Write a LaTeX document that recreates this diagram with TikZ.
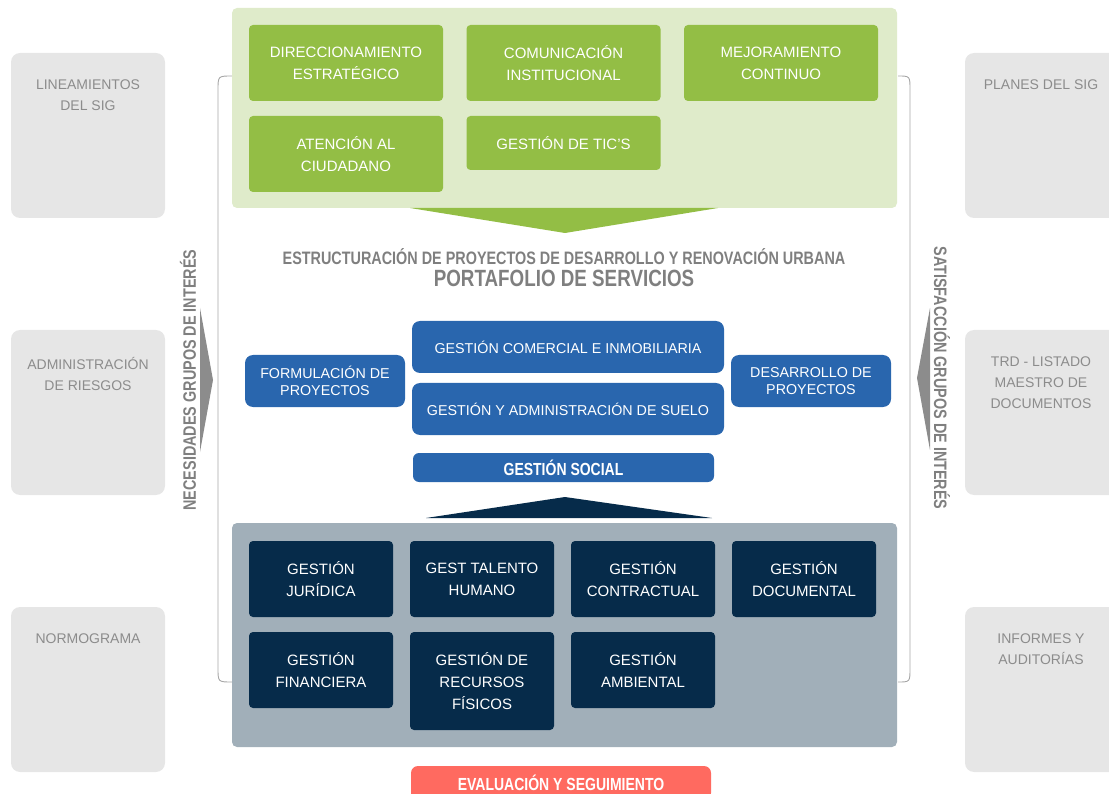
\documentclass[tikz,border=0pt]{standalone}
\usepackage{fontspec}
\setmainfont{Liberation Sans}
\newfontfamily\condfont[FakeStretch=0.8]{Liberation Sans}
\definecolor{sidegray}{HTML}{E6E6E6}
\definecolor{sidetext}{HTML}{8C8C8C}
\definecolor{greenpanel}{HTML}{DFEBCA}
\definecolor{greenfill}{HTML}{93BE45}
\definecolor{bluefill}{HTML}{2966AE}
\definecolor{navyfill}{HTML}{062B4A}
\definecolor{graypanel}{HTML}{A1AFB9}
\definecolor{redfill}{HTML}{FF6A60}
\definecolor{titlegray}{HTML}{7F7F7F}
\begin{document}
\begin{tikzpicture}[x=1pt,y=-1pt,
  sidebox/.style={fill=sidegray,rounded corners=9pt,minimum width=154pt,minimum height=165pt,inner sep=0pt},
  sidelabel/.style={text=sidetext,font=\fontsize{14}{21}\selectfont,align=center,anchor=north,inner sep=0pt},
  greenbox/.style={fill=greenfill,rounded corners=4pt,text=white,font=\fontsize{15}{22}\selectfont,align=center,minimum width=194pt,minimum height=76pt,inner sep=0pt},
  bluebox/.style={fill=bluefill,rounded corners=8pt,text=white,font=\fontsize{14.3}{17}\selectfont,align=center,minimum height=52pt,inner sep=0pt},
  navybox/.style={fill=navyfill,rounded corners=4pt,text=white,font=\fontsize{15}{22}\selectfont,align=center,minimum width=144pt,minimum height=76pt,inner sep=0pt},
  headline/.style={text=white,font=\condfont\bfseries\fontsize{17.5}{20}\selectfont,inner sep=0pt},
  sidetitle/.style={text=titlegray,font=\condfont\bfseries\fontsize{18}{20}\selectfont,inner sep=0pt}]
\useasboundingbox (0,0) rectangle (1109,794);

% side boxes
\foreach \n/\x/\y/\w/\tx/\txt in {lin/88/135.5/154/88/{LINEAMIENTOS\\DEL SIG},
    rie/88/412.5/154/88/{ADMINISTRACIÓN\\DE RIESGOS},
    nor/88/689.5/154/88/{NORMOGRAMA},
    pla/1045/135.5/160/1041/{PLANES DEL SIG},
    trd/1045/412.5/160/1041/{TRD - LISTADO\\MAESTRO DE\\DOCUMENTOS},
    inf/1045/689.5/160/1041/{INFORMES Y\\AUDITORÍAS}}
{
  \node[sidebox,minimum width=\w pt] (\n) at (\x,\y) {};
  \node[sidelabel] at (\tx,80) [yshift=-\y pt+135.5pt] {\txt};
}

% brackets
\draw[gray!70,line width=0.9pt] (232,76) .. controls (218,76) .. (218,90) -- (218,668) .. controls (218,682) .. (232,682);
\draw[gray!70,line width=0.9pt] (898,76) .. controls (910,76) .. (910,90) -- (910,668) .. controls (910,682) .. (898,682);
\fill[sidetext] (200,308) -- (213,380) -- (200,452) -- cycle;
\fill[sidetext] (930,308) -- (917,378) -- (930,450) -- cycle;
\node[sidetitle,rotate=90] (need) at (188,380) {NECESIDADES GRUPOS DE INTERÉS};
\node[sidetitle,rotate=-90] (sat) at (942,378) {SATISFACCIÓN GRUPOS DE INTERÉS};

% top panel
\node[fill=greenpanel,rounded corners=5pt,minimum width=665pt,minimum height=200pt,inner sep=0pt] (strat) at (564.5,108) {};
\node[greenbox] (dir) at (346,63) {DIRECCIONAMIENTO\\ESTRATÉGICO};
\node[greenbox] (com) at (563.5,63) {COMUNICACIÓN\\INSTITUCIONAL};
\node[greenbox] (mej) at (781,63) {MEJORAMIENTO\\CONTINUO};
\node[greenbox] (ate) at (346,154) {ATENCIÓN AL\\CIUDADANO};
\node[greenbox,minimum height=54pt] (tic) at (563.5,143) {GESTIÓN DE TIC'S};
\fill[greenfill] (410,208) -- (718,208) -- (565,233) -- cycle;

% titles
\node[text=titlegray,font=\condfont\bfseries\fontsize{18}{20}\selectfont,inner sep=0pt] (est) at (564,257) {ESTRUCTURACIÓN DE PROYECTOS DE DESARROLLO Y RENOVACIÓN URBANA};
\node[text=titlegray,font=\condfont\bfseries\fontsize{23.5}{26}\selectfont,inner sep=0pt] (port) at (564,278) {PORTAFOLIO DE SERVICIOS};

% mission
\node[bluebox,minimum width=160pt] (for) at (325,381) {FORMULACIÓN DE\\PROYECTOS};
\node[bluebox,minimum width=312pt] (gci) at (568,347) {GESTIÓN COMERCIAL E INMOBILIARIA};
\node[bluebox,minimum width=312pt] (gas) at (568,409) {GESTIÓN Y ADMINISTRACIÓN DE SUELO};
\node[bluebox,minimum width=160pt] (des) at (811,381) {DESARROLLO DE\\PROYECTOS};
\node[bluebox,headline,rounded corners=6pt,minimum width=301pt,minimum height=29pt] (soc) at (563.5,467.5) {GESTIÓN SOCIAL};
\fill[navyfill] (426,518) -- (712,518) -- (565,497) -- cycle;

% support panel
\node[fill=graypanel,rounded corners=5pt,minimum width=665pt,minimum height=224pt,inner sep=0pt] (apoyo) at (564.5,635) {};
\foreach \n/\x/\txt in {jur/321/{GESTIÓN\\JURÍDICA}, tal/482/{GEST TALENTO\\HUMANO},
    con/643/{GESTIÓN\\CONTRACTUAL}, doc/804/{GESTIÓN\\DOCUMENTAL}}
{
  \node[navybox] (\n) at (\x,579) {\txt};
}
\node[navybox] (fin) at (321,670) {GESTIÓN\\FINANCIERA};
\node[navybox,minimum height=98pt] (rec) at (482,681) {GESTIÓN DE\\RECURSOS\\FÍSICOS};
\node[navybox] (amb) at (643,670) {GESTIÓN\\AMBIENTAL};

% evaluation
\node[fill=redfill,headline,rounded corners=7pt,minimum width=300pt,minimum height=34pt] (eva) at (561,783) {\raisebox{1pt}{EVALUACIÓN Y SEGUIMIENTO}};
\end{tikzpicture}
\end{document}
